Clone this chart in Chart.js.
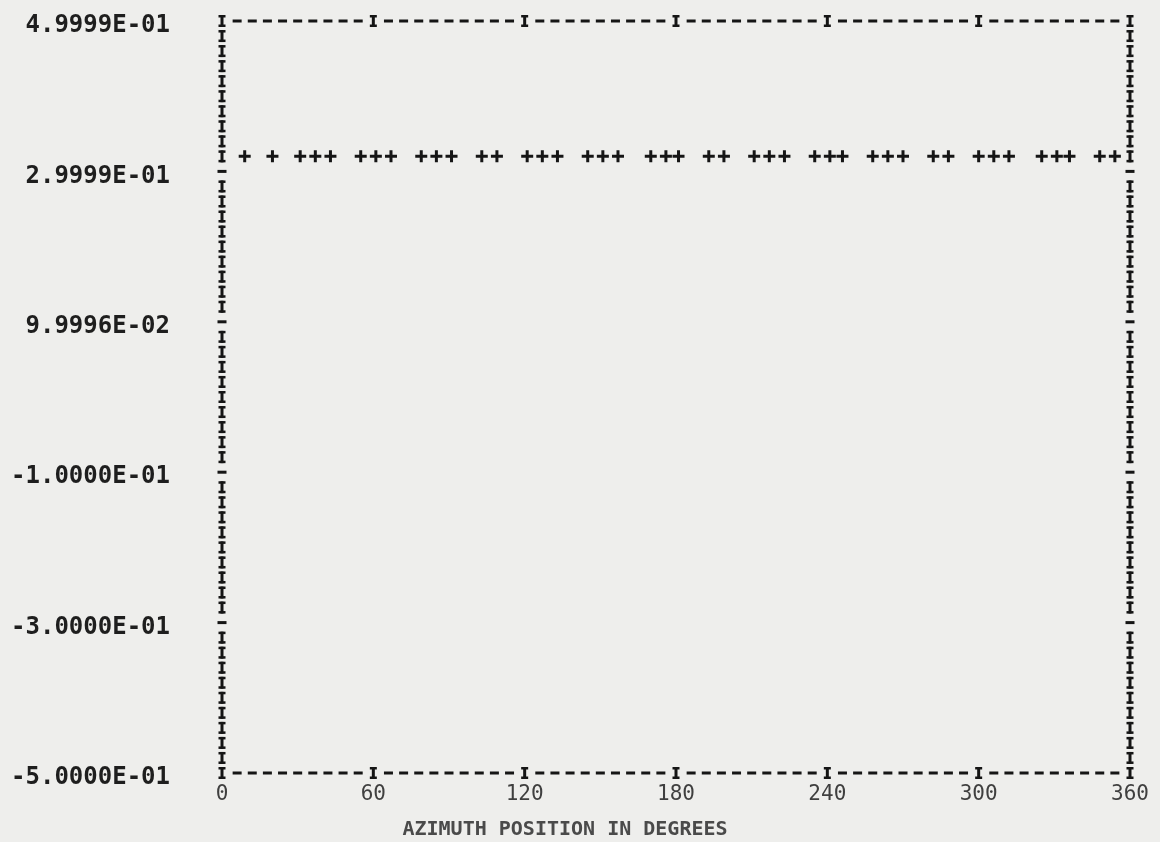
<!DOCTYPE html>
<html>
<head>
<meta charset="utf-8">
<title>Azimuth position plot</title>
<script src="https://cdn.jsdelivr.net/npm/chart.js@4.4.1/dist/chart.umd.min.js"></script>
<style>
    html, body { margin: 0; padding: 0; background: #eeeeec; }
    #wrap { width: 1160px; height: 842px; }
</style>
</head>
<body>
<div id="wrap"><canvas id="azimuthChart"></canvas></div>
<script>
// Plotted points
const azimuthDeg = [9, 20, 31, 37, 43, 55, 61, 67, 79, 85, 91, 103, 109, 121, 127, 133,
    145, 151, 157, 170, 176, 181, 193, 199, 211, 217, 223, 235, 241, 246, 258, 264,
    270, 282, 288, 300, 306, 312, 325, 331, 336, 348, 354];
const plotValues = [0.32, 0.32, 0.32, 0.32, 0.32, 0.32, 0.32, 0.32, 0.32, 0.32, 0.32,
    0.32, 0.32, 0.32, 0.32, 0.32, 0.32, 0.32, 0.32, 0.32, 0.32, 0.32, 0.32, 0.32, 0.32,
    0.32, 0.32, 0.32, 0.32, 0.32, 0.32, 0.32, 0.32, 0.32, 0.32, 0.32, 0.32, 0.32, 0.32,
    0.32, 0.32, 0.32, 0.32];

// Axis ticks
const xTickValues = [0, 60, 120, 180, 240, 300, 360];
const yTickValues = [-0.5, -0.3, -0.1, 0.1, 0.3, 0.5];
const yTickLabels = ['-5.0000E-01', '-3.0000E-01', '-1.0000E-01', '9.9996E-02', '2.9999E-01', '4.9999E-01'];
const xTitle = 'AZIMUTH POSITION IN DEGREES';

// Line printer cell size in data units
const COL_STEP = 6;
const ROW_STEP = 0.02;

const PAPER = '#eeeeec';
const INK = '#151515';
const MONO = '"DejaVu Sans Mono", "Liberation Mono", monospace';

// A printed "I": stem with a serif top and bottom
function printI(ctx, px, py) {
    ctx.fillRect(px - 1.5, py - 6, 3, 12);
    ctx.fillRect(px - 3.5, py - 6, 7, 2.5);
    ctx.fillRect(px - 3.5, py + 3.5, 7, 2.5);
}

// A printed "-"
function printDash(ctx, px, py, w) {
    ctx.fillRect(px - w / 2, py - 1.5, w, 3);
}

// Draws the paper and the printed frame
const printerFrame = {
    id: 'printerFrame',
    beforeDraw(chart) {
        const ctx = chart.ctx;
        ctx.save();
        ctx.fillStyle = PAPER;
        ctx.fillRect(0, 0, chart.width, chart.height);
        ctx.restore();
    },
    afterDatasetsDraw(chart) {
        const { ctx, scales: { x, y } } = chart;
        const left = x.getPixelForValue(x.min);
        const right = x.getPixelForValue(x.max);
        const top = y.getPixelForValue(y.max);
        const bottom = y.getPixelForValue(y.min);
        const rows = Math.round((y.max - y.min) / ROW_STEP);
        const cols = Math.round((x.max - x.min) / COL_STEP);

        ctx.save();
        ctx.fillStyle = INK;

        // side columns: I, with a dash at every labelled row
        for (let r = 1; r < rows; r++) {
            const py = y.getPixelForValue(y.max - r * ROW_STEP);
            [left, right].forEach(px => {
                if (r % 10 === 0) {
                    printDash(ctx, px, py, 9);
                } else {
                    printI(ctx, px, py);
                }
            });
        }

        // top and bottom rows: dashes, with an I every 60 degrees
        for (let c = 0; c <= cols; c++) {
            const px = x.getPixelForValue(x.min + c * COL_STEP);
            [top, bottom].forEach(py => {
                if (c % 10 === 0) {
                    printI(ctx, px, py);
                } else {
                    printDash(ctx, px, py, 9);
                }
            });
        }
        ctx.restore();
    }
};

const ctx = document.getElementById('azimuthChart');

new Chart(ctx.getContext('2d'), {
    type: 'scatter',
    data: {
        datasets: [{
            label: 'Value',
            data: azimuthDeg.map((a, i) => ({ x: a, y: plotValues[i] })),
            pointStyle: 'cross',
            pointRadius: 6,
            pointBorderWidth: 3,
            borderColor: INK,
            backgroundColor: INK
        }]
    },
    options: {
        responsive: true,
        maintainAspectRatio: false,
        animation: false,
        layout: {
            padding: { left: 0, right: 30, top: 21, bottom: 0 }
        },
        plugins: {
            legend: { display: false },
            tooltip: { enabled: false },
            title: {
                display: true,
                text: xTitle,
                position: 'bottom',
                color: '#4a4a4a',
                font: { family: MONO, size: 20 },
                padding: { top: 10, bottom: 0 }
            }
        },
        scales: {
            x: {
                type: 'linear',
                min: 0,
                max: 360,
                afterBuildTicks: (scale) => {
                    scale.ticks = xTickValues.map(v => ({ value: v }));
                },
                afterFit: (scale) => { scale.height = 35; },
                grid: { display: false },
                border: { display: false },
                ticks: {
                    autoSkip: false,
                    maxRotation: 0,
                    padding: 1,
                    color: '#3f3f3f',
                    font: { family: MONO, size: 21 },
                    callback: (value) => String(value)
                }
            },
            y: {
                type: 'linear',
                min: -0.5,
                max: 0.5,
                afterBuildTicks: (scale) => {
                    scale.ticks = yTickValues.map(v => ({ value: v }));
                },
                afterFit: (scale) => { scale.width = 222; },
                // invisible tick marks keep the labels away from the frame
                grid: {
                    display: true,
                    drawOnChartArea: false,
                    drawTicks: true,
                    tickLength: 52,
                    color: 'rgba(0,0,0,0)'
                },
                border: { display: false },
                ticks: {
                    padding: 0,
                    labelOffset: 5,
                    color: '#1e1e1e',
                    font: { family: MONO, size: 24, weight: 'bold' },
                    callback: (value, index) => yTickLabels[index]
                }
            }
        }
    },
    plugins: [printerFrame]
});
</script>
</body>
</html>
